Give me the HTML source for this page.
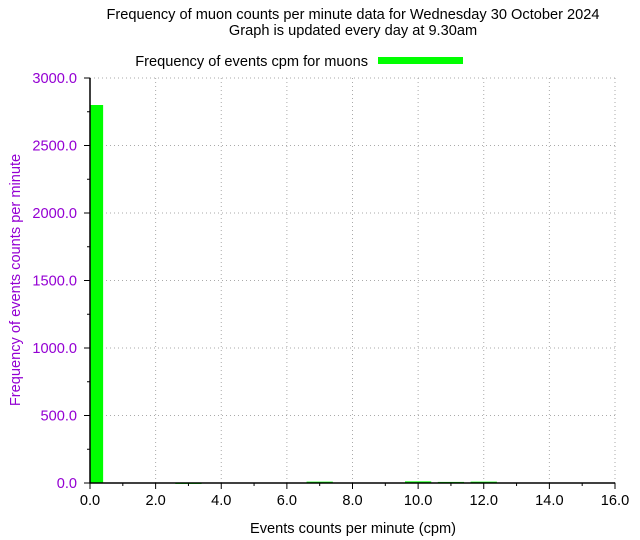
<!DOCTYPE html>
<html><head><meta charset="utf-8"><style>
body{margin:0;background:#fff;}
svg{display:block;font-family:"Liberation Sans",sans-serif;}
</style></head><body>
<svg id="chart" width="640" height="540" xmlns="http://www.w3.org/2000/svg">
<text x="353" y="19" text-anchor="middle" font-size="14.6">Frequency of muon counts per minute data for Wednesday 30 October 2024</text>
<text x="353" y="35" text-anchor="middle" font-size="14.6">Graph is updated every day at 9.30am</text>
<text x="368" y="66" text-anchor="end" font-size="14.6">Frequency of events cpm for muons</text>
<rect x="378" y="57" width="85" height="7" fill="#00ff00"/>
<g id="grid"></g><g id="bars"></g><g id="axes"></g>
<text x="353" y="533" text-anchor="middle" font-size="14.6">Events counts per minute (cpm)</text>
<text transform="translate(20,280) rotate(-90)" text-anchor="middle" font-size="14.6" fill="#9400d3">Frequency of events counts per minute</text>
</svg>
<script>
const categories=[0,3,7,10,11,12];
const values=[2800,4,10,12,8,10];
const xTicks=[0,2,4,6,8,10,12,14,16];
const yTicks=[0,500,1000,1500,2000,2500,3000];
const X0=90,X1=615,Y0=483,Y1=78;
const xs=v=>X0+(v/16)*(X1-X0);
const ys=v=>Y0-(v/3000)*(Y0-Y1);
const NS="http://www.w3.org/2000/svg";
function mk(t,a,p){const e=document.createElementNS(NS,t);for(const k in a)e.setAttribute(k,a[k]);p.appendChild(e);return e;}
const grid=document.getElementById('grid'),bars=document.getElementById('bars'),axes=document.getElementById('axes');
xTicks.forEach(v=>{
 if(v>0){const g=mk('line',{x1:xs(v),x2:xs(v),y1:Y0,y2:Y1,stroke:'#aaa','stroke-dasharray':'1,3'},grid);
 
 }
 const t=mk('line',{x1:xs(v),x2:xs(v),y1:Y0,y2:Y0+6,stroke:'#000'},axes);
 
 
 const l=mk('text',{x:xs(v),y:Y0+22,'text-anchor':'middle','font-size':14.6},axes);l.textContent=v.toFixed(1);
 
 
 if(v<16){const m=mk('line',{x1:xs(v+1),x2:xs(v+1),y1:Y0,y2:Y0+3,stroke:'#000'},axes);
 
 }
});
yTicks.forEach(v=>{
 if(v>0){const g=mk('line',{x1:X0,x2:X1,y1:ys(v),y2:ys(v),stroke:'#aaa','stroke-dasharray':'1,3'},grid);
 
 }
 const t=mk('line',{x1:X0-6,x2:X0,y1:ys(v),y2:ys(v),stroke:'#000'},axes);
 
 
 const l=mk('text',{x:X0-13,y:ys(v)+5,'text-anchor':'end','font-size':14.6,fill:'#9400d3'},axes);l.textContent=v.toFixed(1);
 
 
 if(v<3000){const m=mk('line',{x1:X0-3,x2:X0,y1:ys(v+250),y2:ys(v+250),stroke:'#000'},axes);
 
 }
});
const gr=mk('line',{x1:X1,x2:X1,y1:Y0,y2:Y1,stroke:'#aaa','stroke-dasharray':'1,3'},grid);


const ax=mk('path',{d:`M${X0},${Y1}V${Y0}H${X1}`,fill:'none',stroke:'#000','stroke-width':1.5},axes);


categories.forEach((c,i)=>{
 const l=Math.max(0,c-0.4),r=c+0.4;
 const y=ys(values[i]);
 const b=mk('rect',{x:xs(l),y:y,width:xs(r)-xs(l),height:Math.max(1.5,Y0-y),fill:'#00ff00'},bars);
 
 
});
</script>
</body></html>
